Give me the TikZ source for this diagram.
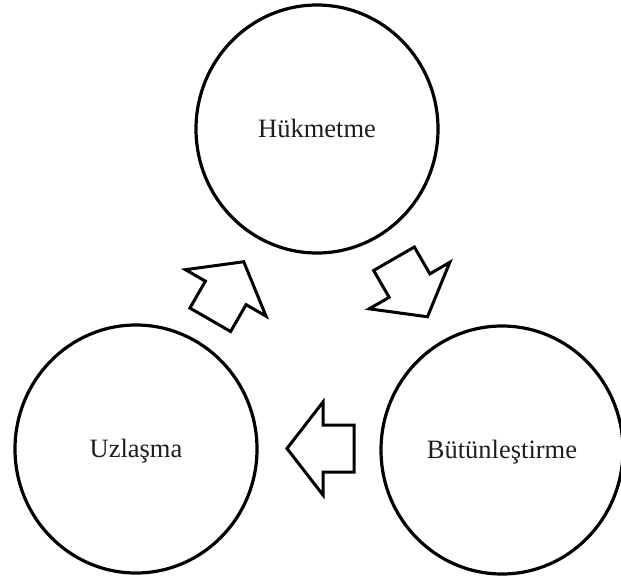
\documentclass[tikz,border=0pt]{standalone}
\usepackage{fontspec}
\setmainfont{Liberation Serif}
\usetikzlibrary{shapes.geometric}
\definecolor{ink}{RGB}{0,0,0}
\definecolor{labelink}{RGB}{30,30,30}
\tikzset{
  stage/.style={ellipse, draw=ink, line width=3.2pt, minimum width=242pt,
    minimum height=248pt, inner sep=0pt, text=labelink,
    font=\fontsize{26.5}{30}\selectfont, text height=17.5pt, text depth=0pt},
  blockarrow/.style={draw=ink, line width=3pt, fill=white, line join=miter},
  pics/flowarrow/.style={code={
    \draw[blockarrow] (-33.5,-23.5) -- (-2.5,-23.5) -- (-2.5,-46.5) -- (33.5,0)
      -- (-2.5,46.5) -- (-2.5,23.5) -- (-33.5,23.5) -- cycle;
  }},
}
\begin{document}
\begin{tikzpicture}[x=1pt,y=-1pt]
\useasboundingbox (0,0) rectangle (621,576);
% the three stages of the cycle
\node[stage] (gov) at (317,129) {Hükmetme};
\node[stage] (cons) at (136,449) {Uzlaşma};
\node[stage] (integ) at (502,450) {Bütünleştirme};
% block arrows between the stages
\pic[rotate=60] (toGov) at (227,290.75) {flowarrow};
\pic[rotate=-60] (toInteg) at (410.75,287.75) {flowarrow};
\pic[rotate=180] (toCons) at (320.5,448.5) {flowarrow};
\end{tikzpicture}
\end{document}
